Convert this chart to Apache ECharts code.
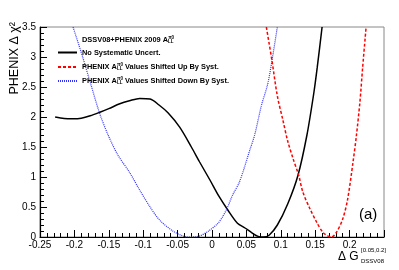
<!DOCTYPE html>
<html><head><meta charset="utf-8">
<script src="https://cdn.jsdelivr.net/npm/echarts@6/dist/echarts.min.js"></script>
<style>html,body{margin:0;padding:0;background:#fff}#c{width:399px;height:270px}</style>
</head><body><div id="c"></div>
<script>
// Data: [ΔG, Δχ²]
const noSyst = [[-0.228,2.0],[-0.215,1.975],[-0.202,1.97],[-0.19,1.98],[-0.177,2.02],[-0.163,2.08],[-0.15,2.14],[-0.134,2.22],[-0.12,2.27],[-0.105,2.31],[-0.09,2.3],[-0.077,2.2],[-0.064,2.07],[-0.047,1.83],[-0.03,1.5],[-0.018,1.25],[-0.003,0.95],[0.01,0.68],[0.023,0.45],[0.037,0.23],[0.048,0.15],[0.058,0.07],[0.067,0.01],[0.075,0.0],[0.083,0.03],[0.095,0.2],[0.11,0.55],[0.125,1.03],[0.138,1.7],[0.148,2.4],[0.153,2.83],[0.16,3.5]];
const shiftedUp = [[0.079,3.5],[0.087,2.95],[0.095,2.35],[0.103,1.95],[0.11,1.6],[0.118,1.3],[0.126,1.03],[0.132,0.75],[0.142,0.48],[0.152,0.25],[0.161,0.08],[0.168,0.02],[0.174,0.0],[0.181,0.08],[0.19,0.3],[0.197,0.62],[0.205,1.25],[0.21,1.7],[0.215,2.25],[0.219,2.83],[0.224,3.5]];
const shiftedDown = [[-0.202,3.5],[-0.188,3.0],[-0.175,2.5],[-0.163,2.05],[-0.151,1.7],[-0.137,1.37],[-0.12,1.08],[-0.105,0.78],[-0.09,0.5],[-0.076,0.28],[-0.057,0.1],[-0.045,0.03],[-0.035,0.0],[-0.02,0.01],[-0.005,0.1],[0.008,0.22],[0.015,0.33],[0.022,0.48],[0.03,0.7],[0.04,0.92],[0.055,1.45],[0.062,1.7],[0.072,2.2],[0.081,2.55],[0.088,3.0],[0.095,3.5]];
const seriesNames = ['No Systematic Uncert.','PHENIX Up','PHENIX Down'];
const legendTexts = {
  'No Systematic Uncert.':'No Systematic Uncert.',
  'PHENIX Up':'PHENIX A{sub|LL}{sup|π0} Values Shifted Up By Syst.',
  'PHENIX Down':'PHENIX A{sub|LL}{sup|π0} Values Shifted Down By Syst.'
};
const xMin=-0.25, xMax=0.25, xStep=0.05;
const yMin=0, yMax=3.5, yStep=0.5;

const FONT='Liberation Sans';
const richSS = {
  sub:{fontSize:4.5,fontWeight:'bold',fontFamily:FONT,color:'#000',padding:[4,0,0,0],width:0.1},
  sup:{fontSize:4.5,fontWeight:'bold',fontFamily:FONT,color:'#000',padding:[0,0,5,0],width:6}
};
function legendOf(name, top){
  return {data:[name], left:57, top:top, orient:'vertical', itemWidth:19, itemHeight:8,
    padding:0, selectedMode:false, itemStyle:{opacity:0},
    formatter:n=>legendTexts[n],
    textStyle:{fontSize:7.4,fontWeight:'bold',fontFamily:FONT,color:'#000',rich:richSS}};
}
const chart = echarts.init(document.getElementById('c'),null,{renderer:'canvas'});
chart.setOption({
  animation:false,
  grid:{left:40,right:15,top:27,bottom:33,show:true,borderColor:'#888',borderWidth:1},
  xAxis:{type:'value',min:xMin,max:xMax,interval:xStep,
    axisLine:{show:true,onZero:false,lineStyle:{color:'#000',width:1.2}},
    axisTick:{show:true,inside:true,length:7,lineStyle:{color:'#000'}},
    minorTick:{show:true,splitNumber:5,length:4,lineStyle:{color:'#000'}},
    splitLine:{show:false},
    axisLabel:{showMaxLabel:false,fontSize:10,fontFamily:FONT,color:'#000',margin:3}},
  yAxis:{type:'value',min:yMin,max:yMax,interval:yStep,
    axisLine:{show:true,onZero:false,lineStyle:{color:'#000',width:1.2}},
    axisTick:{show:true,inside:true,length:7,lineStyle:{color:'#000'}},
    minorTick:{show:true,splitNumber:5,length:4,lineStyle:{color:'#000'}},
    splitLine:{show:false},
    axisLabel:{fontSize:10,fontFamily:FONT,color:'#000',margin:4}},
  legend:[legendOf(seriesNames[0],49),legendOf(seriesNames[1],62),legendOf(seriesNames[2],76)],
  series:[
    {name:seriesNames[0],type:'line',data:noSyst,smooth:0.3,symbol:'none',clip:true,
      lineStyle:{color:'#000',width:1.5},itemStyle:{color:'#000'}},
    {name:seriesNames[1],type:'line',data:shiftedUp,smooth:0.3,symbol:'none',clip:true,
      lineStyle:{color:'#ff0000',width:1.5,type:[3,2]},itemStyle:{color:'#ff0000'}},
    {name:seriesNames[2],type:'line',data:shiftedDown,smooth:0.3,symbol:'none',clip:true,
      lineStyle:{color:'#3030ff',width:1.2,type:[1,1]},itemStyle:{color:'#3030ff'}}
  ],
  graphic:[
    {type:'text',left:82,top:35,style:{text:'DSSV08+PHENIX 2009 A{sub|LL}{sup|π0}',rich:richSS,
      font:'bold 7.4px '+FONT,fill:'#000'}},
    {type:'text',x:15,y:22,rotation:Math.PI/2,style:{text:'PHENIX Δ χ²',font:'12.5px '+FONT,fill:'#000',
      align:'right',verticalAlign:'middle'}},
    {type:'text',x:359,y:207,style:{text:'(a)',font:'15px '+FONT,fill:'#000'}},
    {type:'text',x:338,y:251,style:{text:'Δ G',font:'12px '+FONT,fill:'#000'}},
    {type:'text',x:361,y:247,style:{text:'[0.05,0.2]',font:'6px '+FONT,fill:'#000'}},
    {type:'text',x:361,y:258,style:{text:'DSSV08',font:'6px '+FONT,fill:'#000'}}
  ]
});
</script></body></html>
